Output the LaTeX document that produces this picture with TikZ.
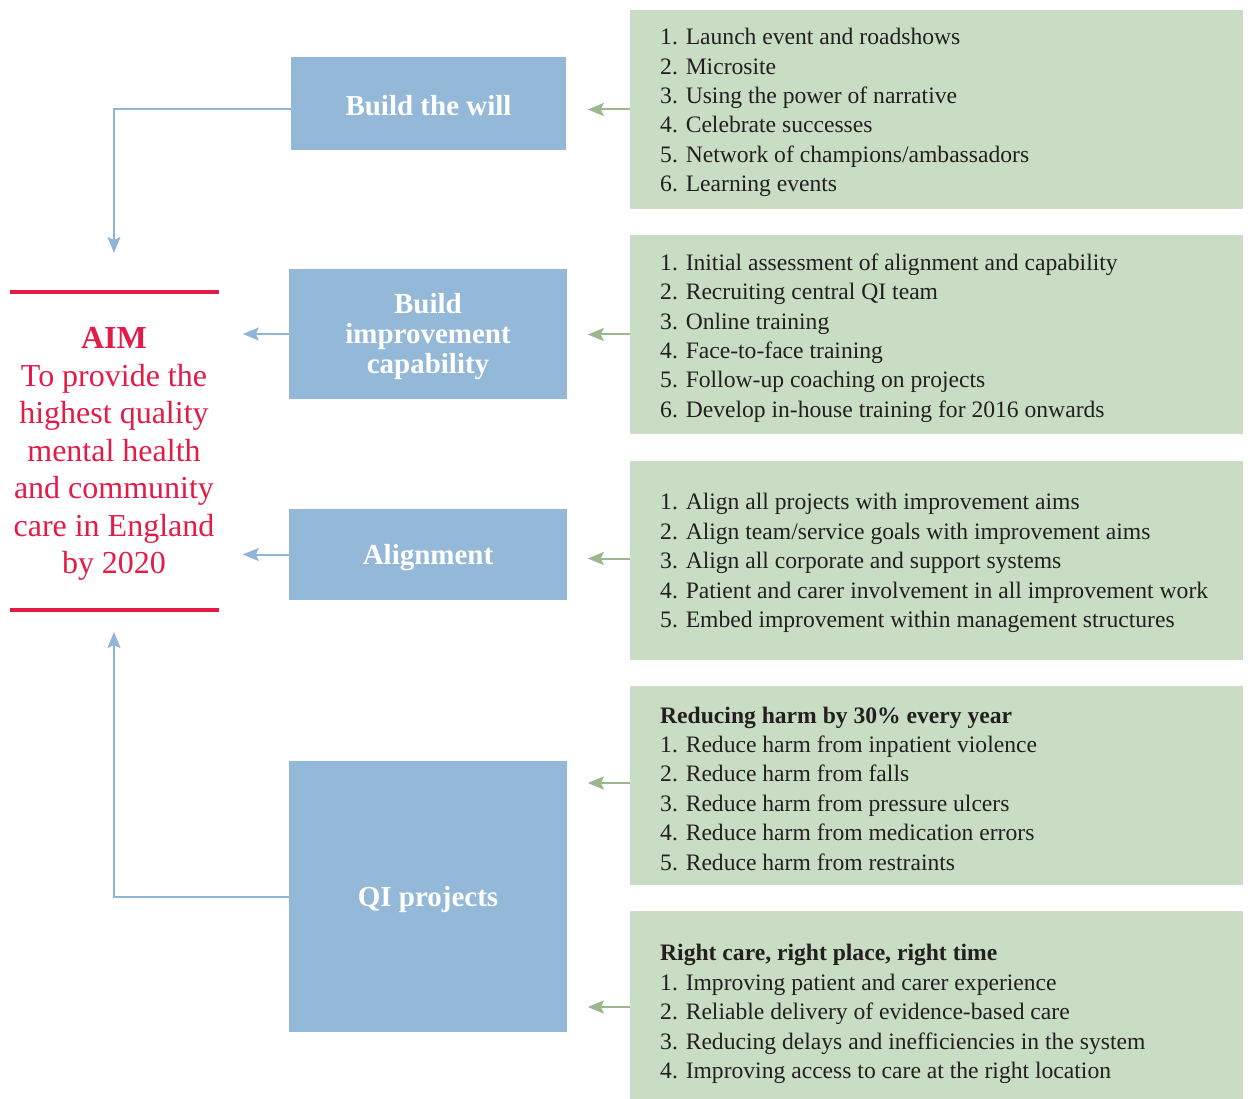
\documentclass[tikz,border=0pt]{standalone}
\usepackage{fontspec}
\setmainfont{Liberation Serif}
\usetikzlibrary{arrows.meta,calc}
\definecolor{bluebox}{HTML}{94B8D7}
\definecolor{greenbox}{HTML}{C9DDC5}
\definecolor{aimred}{HTML}{E31B47}
\definecolor{bluearrow}{HTML}{8FB5D8}
\definecolor{greenarrow}{HTML}{9AB88E}
\definecolor{textdark}{HTML}{231F20}
\begin{document}
\begin{tikzpicture}[x=1pt,y=-1pt,
  bluenode/.style={fill=bluebox,draw=none,inner sep=0pt},
  bluetext/.style={text=white,font=\fontsize{29}{30}\selectfont\bfseries,align=center,inner sep=0pt},
  greennode/.style={fill=greenbox,draw=none,inner sep=0pt},
  listtext/.style={text=textdark,font=\fontsize{23.6}{29.4}\selectfont,align=left,anchor=west,inner sep=0pt},
  bluearr/.style={draw=bluearrow,line width=2pt,-{Stealth[length=16pt,width=13pt,inset=3pt]}},
  greenarr/.style={draw=greenarrow,line width=2pt,-{Stealth[length=16pt,width=13pt,inset=3pt]}},
  redline/.style={draw=aimred,line width=4pt}]
\useasboundingbox (0,0) rectangle (1248,1099);
% blue boxes
\node[bluenode,minimum width=275pt,minimum height=93pt] (will) at (428.5,103.5) {};
\node[bluenode,minimum width=278pt,minimum height=130pt] (cap) at (428,334) {};
\node[bluenode,minimum width=278pt,minimum height=91pt] (align) at (428,554.5) {};
\node[bluenode,minimum width=278pt,minimum height=271pt] (qi) at (428,896.5) {};
\node[bluetext] (willt) at ($(will.center)+(0,2)$) {Build the will};
\node[bluetext] (capt) at ($(cap.center)+(0,3)$) {Build\\improvement\\capability};
\node[bluetext] (alignt) at ($(align.center)+(0,3)$) {Alignment};
\node[bluetext] (qit) at ($(qi.center)+(0,3)$) {QI projects};
% green boxes
\node[greennode,minimum width=613pt,minimum height=199pt] (g1) at (936.5,109.5) {};
\node[greennode,minimum width=613pt,minimum height=199pt] (g2) at (936.5,334.5) {};
\node[greennode,minimum width=613pt,minimum height=199pt] (g3) at (936.5,560.5) {};
\node[greennode,minimum width=613pt,minimum height=199pt] (g4) at (936.5,785.5) {};
\node[greennode,minimum width=613pt,minimum height=188pt] (g5) at (936.5,1005) {};
% list texts
\node[listtext] (t1) at (660,112.5) {1. Launch event and roadshows\\2. Microsite\\3. Using the power of narrative\\4. Celebrate successes\\5. Network of champions/ambassadors\\6. Learning events};
\node[listtext] (t2) at (660,338) {1. Initial assessment of alignment and capability\\2. Recruiting central QI team\\3. Online training\\4. Face-to-face training\\5. Follow-up coaching on projects\\6. Develop in-house training for 2016 onwards};
\node[listtext] (t3) at (660,563) {1. Align all projects with improvement aims\\2. Align team/service goals with improvement aims\\3. Align all corporate and support systems\\4. Patient and carer involvement in all improvement work\\5. Embed improvement within management structures};
\node[listtext] (t4) at (660,788.5) {\textbf{Reducing harm by 30\% every year}\\1. Reduce harm from inpatient violence\\2. Reduce harm from falls\\3. Reduce harm from pressure ulcers\\4. Reduce harm from medication errors\\5. Reduce harm from restraints};
\node[listtext] (t5) at (660,1014) {\textbf{Right care, right place, right time}\\1. Improving patient and carer experience\\2. Reliable delivery of evidence-based care\\3. Reducing delays and inefficiencies in the system\\4. Improving access to care at the right location};
% aim
\coordinate (rl1a) at (10,292); \coordinate (rl1b) at (219,292);
\coordinate (rl2a) at (10,610); \coordinate (rl2b) at (219,610);
\draw[redline] (rl1a) -- (rl1b);
\draw[redline] (rl2a) -- (rl2b);
\node[text=aimred,font=\fontsize{32}{37.5}\selectfont,align=center,inner sep=0pt] (aim) at (114,454) {\textbf{AIM}\\To provide the\\highest quality\\mental health\\and community\\care in England\\by 2020};
% blue arrows
\coordinate (aimtop) at (114,253);
\coordinate (aimbot) at (114,632);
\draw[bluearr] ($(will.west)+(0,5.5)$) -| (aimtop);
\draw[bluearr] (qi.west) -| (aimbot);
\draw[bluearr] (cap.west) -- ++(-46,0) coordinate (capend);
\draw[bluearr] (align.west) -- ++(-46,0) coordinate (alend);
% green arrows
\draw[greenarr] (g1.west) -- ++(-42,0);
\draw[greenarr] (g2.west) -- ++(-42,0);
\draw[greenarr] ($(g3.west)+(0,-2)$) -- ++(-42,0);
\draw[greenarr] ($(g4.west)+(0,-2.5)$) -- ++(-42,0);
\draw[greenarr] ($(g5.west)+(0,2)$) -- ++(-42,0);
\end{tikzpicture}
\end{document}
